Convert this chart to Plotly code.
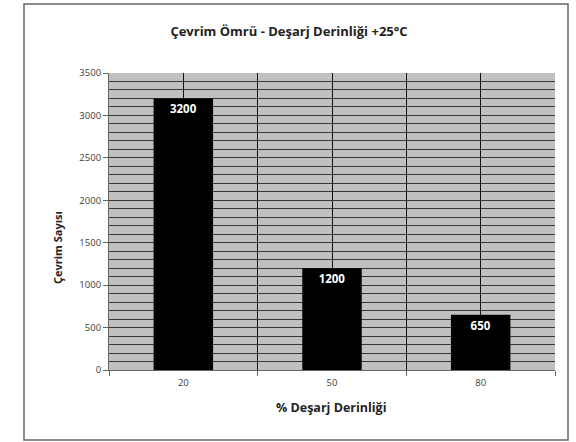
import plotly.graph_objects as go

categories = ["20", "50", "80"]
values = [3200, 1200, 650]
labels = ["3200", "1200", "650"]
title = "Çevrim Ömrü - Deşarj Derinliği +25°C"
x_title = "% Deşarj Derinliği"
y_title = "Çevrim Sayısı"

font = "Open Sans"
xpos = list(range(len(categories)))

fig = go.Figure(go.Bar(
    x=xpos, y=values, width=0.4,
    marker=dict(color="black", line=dict(width=0)),
    text=labels, textposition="inside", insidetextanchor="end",
    textfont=dict(family=font, size=11.5, color="white"),
    texttemplate="<b>%{text}</b>",
))

fig.update_layout(
    width=576, height=442,
    margin=dict(l=109, r=21, t=73, b=72),
    paper_bgcolor="white", plot_bgcolor="#c0c0c0",
    showlegend=False,
    font=dict(family=font, size=9, color="#404040"),
    title=dict(text="<b>" + title + "</b>", xref="container", x=289 / 576,
               xanchor="center", y=1 - 31 / 442, yanchor="middle",
               font=dict(family=font, size=13, color="#222")),
)

fig.update_xaxes(
    range=[-0.5, len(categories) - 0.5],
    tickvals=xpos, ticktext=categories, ticks="",
    showgrid=True, gridcolor="#111", gridwidth=1,
    minor=dict(tick0=-0.5, dtick=1, showgrid=True, gridcolor="#111", gridwidth=1,
               ticks="outside", ticklen=5, tickcolor="#666"),
    showline=True, linecolor="#666", linewidth=1,
    zeroline=False, ticklabelstandoff=4,
    tickfont=dict(size=9.5, color="#404040"),
)
fig.update_yaxes(
    range=[0, 3500], dtick=500, ticks="outside", ticklen=5, tickcolor="#666",
    showgrid=True, gridcolor="#383838", gridwidth=1,
    minor=dict(dtick=100, showgrid=True, gridcolor="#383838", gridwidth=1),
    showline=True, linecolor="#666", linewidth=1, zeroline=False,
    tickfont=dict(size=9.5, color="#404040"),
)

fig.add_annotation(text="<b>" + x_title + "</b>", xref="paper", yref="paper",
                   x=(331 - 109) / 446, y=-(407 - 370) / 297, showarrow=False,
                   yanchor="middle", xanchor="center",
                   font=dict(family=font, size=12.5, color="#222"))
fig.add_annotation(text="<b>" + y_title + "</b>", xref="paper", yref="paper",
                   x=-(109 - 57) / 446, y=(370 - 248) / 297, showarrow=False,
                   textangle=-90, xanchor="center", yanchor="middle",
                   font=dict(family=font, size=11, color="#222"))

fig.add_shape(type="rect", xref="paper", yref="paper",
              x0=(24 - 109) / 446, x1=(568 - 109) / 446,
              y0=(370 - 440) / 297, y1=(370 - 4) / 297,
              line=dict(color="#666", width=1.5), layer="below")

fig.write_html("out.html", config={"displayModeBar": False},
               post_script="document.body.style.margin='0';document.body.style.overflow='hidden';")
